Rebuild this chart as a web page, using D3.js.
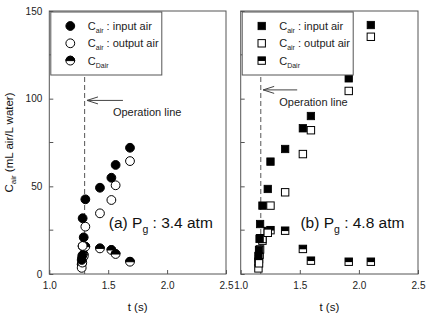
<!DOCTYPE html>
<html><head><meta charset="utf-8">
<script src="https://cdn.jsdelivr.net/npm/d3@7"></script>
<style>body{margin:0;background:#fff;} svg{display:block;font-family:"Liberation Sans",Arial,sans-serif;}</style>
</head><body>
<script>
// ---- data ----
const timeA   = [1.275, 1.28, 1.292, 1.283, 1.306, 1.43, 1.527, 1.563, 1.685];
const inputA  = [8.0, 10.5, 20.9, 31.8, 42.6, 49.2, 54.9, 62.2, 72.0];
const outputA = [3.5, 6.5, 10.0, 16.0, 27.0, 34.6, 42.2, 50.6, 64.4];
const dairA   = [5.5, 9.0, 11.0, 15.8, 15.6, 14.6, 13.7, 11.4, 7.0];

const timeB   = [1.15, 1.155, 1.16, 1.164, 1.184, 1.229, 1.252, 1.376, 1.526, 1.594, 1.914, 2.101];
const inputB  = [10.3, 13.7, 20.0, 28.5, 39.0, 48.5, 64.1, 71.3, 83.1, 90.1, 111.6, 142.0];
const outputB = [3.2, 6.1, 11.0, 14.0, 20.0, 23.5, 39.0, 46.6, 68.4, 82.0, 104.4, 135.3];
const dairB   = [7.0, 8.5, 13.7, 20.4, 19.0, 24.5, 25.0, 24.7, 14.3, 7.6, 7.0, 7.0];

const xTickVals = [1.0, 1.5, 2.0, 2.5];
const yTickVals = [0, 50, 100, 150];
const yMinorVals = [25, 75, 125];
const opLineA = 1.3, opLineB = 1.17;
const legendLabels = [" : input air", " : output air", ""];
const legendSubs = ["air", "air", "Dair"];
const panelLabels = [["(a) P", "g", " : 3.4 atm"], ["(b) P", "g", " : 4.8 atm"]];

// ---- layout ----
const W = 427, H = 314;
const svg = d3.select("body").append("svg").attr("width", W).attr("height", H);
const yScale = d3.scaleLinear().domain([0, 150]).range([274, 11]);
const frame = "#555";

const panels = [
  {x0: 49.3, x1: 226, t: timeA, inp: inputA, out: outputA, dair: dairA, op: opLineA, shape: "circle",
   arrow: {y: 99, t0: 1.32, t1: 1.625}, opText: {t: 1.54, v: 90}, label: {t: 1.505, v: 26}, yLabels: true},
  {x0: 240.7, x1: 418, t: timeB, inp: inputB, out: outputB, dair: dairB, op: opLineB, shape: "square",
   arrow: {y: 105, t0: 1.19, t1: 1.478}, opText: {t: 1.326, v: 96}, label: {t: 1.505, v: 26}, yLabels: false}
];

function drawMarker(g, shape, kind, cx, cy) {
  if (shape === "circle") {
    const r = 4.4;
    if (kind === "in") g.append("circle").attr("cx", cx).attr("cy", cy).attr("r", r).attr("fill", "#000").attr("stroke", "#000");
    else if (kind === "out") g.append("circle").attr("cx", cx).attr("cy", cy).attr("r", r).attr("fill", "#fff").attr("stroke", "#000").attr("stroke-width", 1);
    else {
      g.append("circle").attr("cx", cx).attr("cy", cy).attr("r", r).attr("fill", "#fff").attr("stroke", "#000").attr("stroke-width", 1);
      g.append("path").attr("d", `M${cx - r},${cy} A${r},${r} 0 0 1 ${cx + r},${cy} Z`).attr("fill", "#000").attr("stroke", "#000").attr("stroke-width", 1);
    }
  } else {
    const s = 7.4;
    if (kind === "in") g.append("rect").attr("x", cx - s/2).attr("y", cy - s/2).attr("width", s).attr("height", s).attr("fill", "#000").attr("stroke", "#000").attr("stroke-width", 0.8);
    else if (kind === "out") g.append("rect").attr("x", cx - s/2).attr("y", cy - s/2).attr("width", s).attr("height", s).attr("fill", "#fff").attr("stroke", "#000").attr("stroke-width", 1);
    else {
      g.append("rect").attr("x", cx - s/2).attr("y", cy - s/2).attr("width", s).attr("height", s).attr("fill", "#fff").attr("stroke", "#000").attr("stroke-width", 1);
      g.append("rect").attr("x", cx - s/2).attr("y", cy - s/2).attr("width", s).attr("height", s*0.55).attr("fill", "#000");
    }
  }
}

panels.forEach((p, pi) => {
  const xScale = d3.scaleLinear().domain([1.0, 2.5]).range([p.x0, p.x1]);
  const g = svg.append("g");

  // frame
  g.append("rect").attr("x", p.x0).attr("y", yScale(150)).attr("width", p.x1 - p.x0).attr("height", yScale(0) - yScale(150))
    .attr("fill", "none").attr("stroke", frame).attr("stroke-width", 1);

  // y ticks (inward)
  const yAxis = d3.axisLeft(yScale).tickValues(yTickVals).tickSize(-4).tickPadding(7).tickFormat(p.yLabels ? d3.format("d") : "");
  const ya = g.append("g").attr("transform", `translate(${p.x0},0)`).call(yAxis);
  ya.select(".domain").remove();
  ya.selectAll("line").attr("stroke", frame);
  ya.selectAll("text").attr("font-size", 10).attr("fill", "#222").attr("font-family", "Liberation Sans, Arial, sans-serif");
  g.selectAll(".ymin").data(yMinorVals).enter().append("line")
    .attr("x1", p.x0).attr("x2", p.x0 + 4).attr("y1", d => yScale(d)).attr("y2", d => yScale(d)).attr("stroke", frame);

  // x ticks (inward)
  const xAxis = d3.axisBottom(xScale).tickValues(xTickVals).tickSize(-4).tickPadding(8).tickFormat(d3.format(".1f"));
  const xa = g.append("g").attr("transform", `translate(0,${yScale(0)})`).call(xAxis);
  xa.select(".domain").remove();
  xa.selectAll("line").attr("stroke", frame);
  xa.selectAll("text").attr("font-size", 10).attr("fill", "#222").attr("font-family", "Liberation Sans, Arial, sans-serif");

  // x label
  g.append("text").attr("x", (p.x0 + p.x1) / 2).attr("y", 311).attr("text-anchor", "middle").attr("font-size", 11.5).attr("fill", "#111").text("t (s)");

  // operation line
  g.append("line").attr("x1", xScale(p.op)).attr("x2", xScale(p.op)).attr("y1", yScale(0)).attr("y2", yScale(120))
    .attr("stroke", "#555").attr("stroke-width", 1).attr("stroke-dasharray", "5,3");

  // arrow
  const ay = yScale(p.arrow.y), ax0 = xScale(p.arrow.t0), ax1 = xScale(p.arrow.t1);
  g.append("line").attr("x1", ax0).attr("x2", ax1).attr("y1", ay).attr("y2", ay).attr("stroke", "#444").attr("stroke-width", 1);
  g.append("path").attr("d", `M${ax0 + 11},${ay - 3.5} L${ax0},${ay} L${ax0 + 11},${ay + 3.5}`).attr("fill", "none").attr("stroke", "#444").attr("stroke-width", 1);
  g.append("text").attr("x", xScale(p.opText.t)).attr("y", yScale(p.opText.v)).attr("font-size", 11).attr("fill", "#222").text("Operation line");

  // data
  const pts = g.append("g");
  p.t.forEach((t, i) => drawMarker(pts, p.shape, "dair", xScale(t), yScale(p.dair[i])));
  p.t.forEach((t, i) => drawMarker(pts, p.shape, "out", xScale(t), yScale(p.out[i])));
  p.t.forEach((t, i) => drawMarker(pts, p.shape, "in", xScale(t), yScale(p.inp[i])));

  // panel label
  const lt = g.append("text").attr("x", xScale(p.label.t)).attr("y", yScale(p.label.v)).attr("font-size", 15.5).attr("fill", "#111");
  lt.append("tspan").text(panelLabels[pi][0]);
  lt.append("tspan").attr("font-size", 10.5).attr("dy", 5).text(panelLabels[pi][1]);
  lt.append("tspan").attr("dy", -5).text(panelLabels[pi][2]);

  // legend
  const lx = p.x0 + 1.5, lyTop = yScale(150) + 1;
  const lg = g.append("g");
  lg.append("rect").attr("x", lx).attr("y", lyTop).attr("width", 111).attr("height", 63)
    .attr("fill", "#fff").attr("stroke", frame).attr("stroke-width", 1);
  ["in", "out", "dair"].forEach((k, i) => {
    const cy = lyTop + 14 + i * 17.3;
    drawMarker(lg, p.shape, k, lx + 19.5, cy);
    const tx = lg.append("text").attr("x", lx + 37).attr("y", cy + 4).attr("font-size", 11).attr("fill", "#222");
    tx.append("tspan").text("C");
    tx.append("tspan").attr("font-size", 7).attr("dy", 3).text(legendSubs[i]);
    if (legendLabels[i]) tx.append("tspan").attr("dy", -3).text(legendLabels[i]);
  });
});

// y label
const yl = svg.append("text").attr("transform", `translate(13,${yScale(75)}) rotate(-90)`).attr("text-anchor", "middle")
  .attr("font-size", 11.5).attr("fill", "#111");
yl.append("tspan").text("C");
yl.append("tspan").attr("font-size", 8).attr("dy", 3).text("air");
yl.append("tspan").attr("dy", -3).text(" (mL air/L water)");
</script>
</body></html>
